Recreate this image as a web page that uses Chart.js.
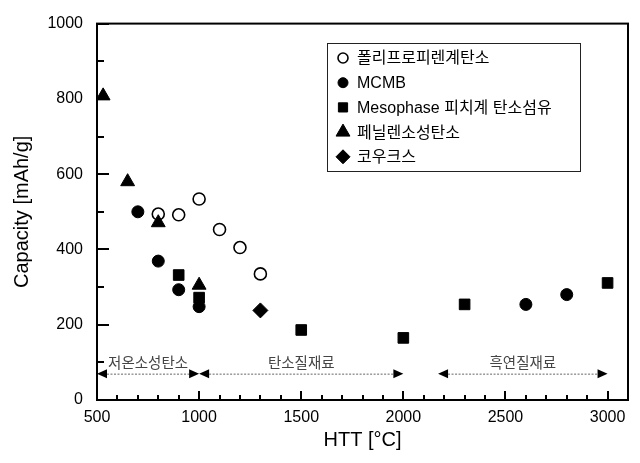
<!DOCTYPE html>
<html><head><meta charset="utf-8">
<script src="https://cdn.jsdelivr.net/npm/chart.js@4.4.0/dist/chart.umd.min.js"></script>
<style>html,body{margin:0;padding:0;background:#fff}canvas{display:block}</style>
</head><body>
<canvas id="c" width="640" height="463"></canvas>
<script>
const seriesLabels = ['폴리프로피렌계탄소', 'MCMB', 'Mesophase 피치계 탄소섬유', '페닐렌소성탄소', '코우크스'];
const polyX = [800, 900, 1000, 1100, 1200, 1300];
const polyY = [494, 492, 534, 453, 405, 335];
const mcmbX = [700, 800, 900, 1000, 2600, 2800];
const mcmbY = [500, 369, 293, 248, 254, 280];
const mesoX = [900, 1000, 1500, 2000, 2300, 3000];
const mesoY = [332, 272, 186, 165, 254, 311];
const phenX = [530, 650, 800, 1000];
const phenY = [808, 580, 471, 305];
const cokeX = [1300];
const cokeY = [238];
const xTickLabels = [500, 1000, 1500, 2000, 2500, 3000];
const yTickLabels = [0, 200, 400, 600, 800, 1000];
const rangeLabels = ['저온소성탄소', '탄소질재료', '흑연질재료'];
const rangeStart = [500, 1000, 2170];
const rangeEnd = [1000, 2000, 3000];
const rangeLevel = 70;

const FONT = '"Liberation Sans", Arial, "Noto Sans CJK KR", sans-serif';
const KFONT = '"Noto Sans CJK KR", "Liberation Sans", sans-serif';

function pts(xs, ys) { return xs.map((x, i) => ({x: x, y: ys[i]})); }

const datasets = [
  {label: seriesLabels[0], data: pts(polyX, polyY), pointStyle: 'circle', pointRadius: 6, backgroundColor: '#fff', borderColor: '#000', borderWidth: 1.6, order: 2, legendR: 5},
  {label: seriesLabels[1], data: pts(mcmbX, mcmbY), pointStyle: 'circle', pointRadius: 6, backgroundColor: '#000', borderColor: '#000', borderWidth: 1, order: 3, legendR: 5},
  {label: seriesLabels[2], data: pts(mesoX, mesoY), pointStyle: 'rect', pointRadius: 7.5, backgroundColor: '#000', borderColor: '#000', borderWidth: 1, order: 3, legendR: 6.5},
  {label: seriesLabels[3], data: pts(phenX, phenY), pointStyle: 'triangle', pointRadius: 8, backgroundColor: '#000', borderColor: '#000', borderWidth: 1, order: 0, legendR: 8},
  {label: seriesLabels[4], data: pts(cokeX, cokeY), pointStyle: 'rectRot', pointRadius: 7.5, backgroundColor: '#000', borderColor: '#000', borderWidth: 1, order: 1, legendR: 7}
];
datasets.forEach(d => { d.pointHoverRadius = d.pointRadius; d.pointBackgroundColor = d.backgroundColor; d.pointBorderColor = d.borderColor; d.pointBorderWidth = d.borderWidth; });

const decor = {
  id: 'decor',
  afterDatasetsDraw(chart) {
    const ctx = chart.ctx, xs = chart.scales.x, ys = chart.scales.y;
    const y = ys.getPixelForValue(rangeLevel);
    ctx.save();
    for (let i = 0; i < rangeLabels.length; i++) {
      const x1 = xs.getPixelForValue(rangeStart[i]);
      const x2 = xs.getPixelForValue(rangeEnd[i]);
      const hl = 10, hh = 4.5;
      ctx.strokeStyle = '#666'; ctx.lineWidth = 1; ctx.setLineDash([2, 1.5]);
      ctx.beginPath(); ctx.moveTo(x1 + hl, y + 0.5); ctx.lineTo(x2 - hl, y + 0.5); ctx.stroke();
      ctx.setLineDash([]);
      ctx.fillStyle = '#000';
      ctx.beginPath(); ctx.moveTo(x1, y); ctx.lineTo(x1 + hl, y - hh); ctx.lineTo(x1 + hl, y + hh); ctx.closePath(); ctx.fill();
      ctx.beginPath(); ctx.moveTo(x2, y); ctx.lineTo(x2 - hl, y - hh); ctx.lineTo(x2 - hl, y + hh); ctx.closePath(); ctx.fill();
      ctx.fillStyle = '#444'; ctx.font = '14.5px ' + KFONT; ctx.textAlign = 'center'; ctx.textBaseline = 'middle';
      ctx.fillText(rangeLabels[i], (x1 + x2) / 2, y - 11);
    }
    ctx.restore();
  },
  afterDraw(chart) {
    const ctx = chart.ctx, a = chart.chartArea, xs = chart.scales.x, ys = chart.scales.y;
    ctx.save();
    ctx.fillStyle = '#000';
    yTickLabels.forEach((v, i) => {
      const p = Math.round(ys.getPixelForValue(v));
      ctx.fillRect(a.left, p - 1, 12, 2);
      if (i > 0) {
        const q = Math.round(ys.getPixelForValue((v + yTickLabels[i - 1]) / 2));
        ctx.fillRect(a.left, q - 1, 7, 2);
      }
    });
    xTickLabels.forEach((v, i) => {
      const p = Math.round(xs.getPixelForValue(v));
      ctx.fillRect(p - 1, a.bottom - 9, 2, 9);
      if (i > 0) {
        const prev = xTickLabels[i - 1];
        for (let k = 1; k < 5; k++) {
          const q = Math.round(xs.getPixelForValue(prev + (v - prev) * k / 5));
          ctx.fillRect(q - 1, a.bottom - 5, 2, 5);
        }
      }
    });
    ctx.strokeStyle = '#000';
    ctx.lineWidth = 2;
    ctx.strokeRect(a.left, a.top, a.right - a.left, a.bottom - a.top);
    // legend
    const bx = 327, by = 43, bw = 253, bh = 128;
    ctx.lineWidth = 1; ctx.strokeStyle = '#222';
    ctx.fillStyle = '#fff';
    ctx.fillRect(bx, by, bw, bh);
    ctx.strokeRect(bx + 0.5, by + 0.5, bw, bh);
    chart.data.datasets.forEach((d, i) => {
      const cy = by + 15 + i * 24.7;
      ctx.fillStyle = d.backgroundColor; ctx.strokeStyle = d.borderColor; ctx.lineWidth = d.borderWidth;
      Chart.helpers.drawPoint(ctx, {pointStyle: d.pointStyle, radius: d.legendR, rotation: 0, borderWidth: d.borderWidth}, 343, cy);
      ctx.fillStyle = '#000'; ctx.font = '16px ' + FONT; ctx.textAlign = 'left'; ctx.textBaseline = 'middle';
      ctx.fillText(d.label, 357, cy + 1);
    });
    ctx.restore();
  }
};

new Chart(document.getElementById('c'), {
  type: 'scatter',
  data: {datasets: datasets},
  plugins: [decor],
  options: {
    responsive: false, animation: false, devicePixelRatio: 1, events: [],
    layout: {padding: {top: 18, right: 12, left: 0, bottom: 0}},
    plugins: {legend: {display: false}, tooltip: {enabled: false}},
    scales: {
      x: {
        type: 'linear', min: 500, max: 3100,
        afterBuildTicks: s => { s.ticks = xTickLabels.map(v => ({value: v})); },
        afterFit: s => { s.height = 63; },
        grid: {display: false, drawTicks: false}, border: {display: false},
        ticks: {color: '#000', font: {family: FONT, size: 16}, padding: 8, maxRotation: 0, callback: v => String(v)},
        title: {display: true, text: 'HTT [°C]', color: '#000', font: {family: FONT, size: 20}, padding: {top: 0, bottom: 11}}
      },
      y: {
        type: 'linear', min: 0, max: 1000,
        afterBuildTicks: s => { s.ticks = yTickLabels.map(v => ({value: v})); },
        afterFit: s => { s.width = 97; },
        grid: {display: false, drawTicks: false}, border: {display: false},
        ticks: {color: '#000', font: {family: FONT, size: 16}, padding: 14, callback: v => String(v)},
        title: {display: true, text: 'Capacity [mAh/g]', color: '#000', font: {family: FONT, size: 20}, padding: {top: 10, bottom: 0}}
      }
    }
  }
});
</script>
</body></html>
